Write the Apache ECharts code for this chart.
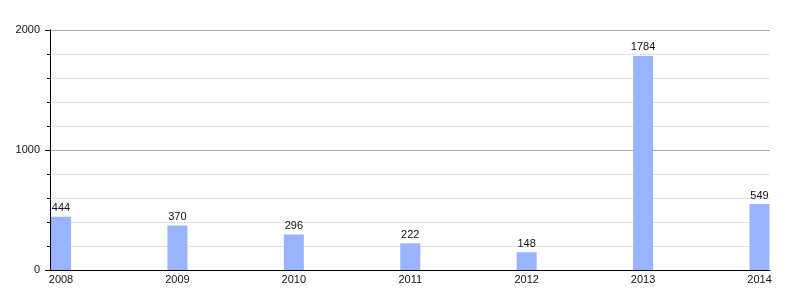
<!DOCTYPE html>
<html>
<head>
<meta charset="utf-8">
<script src="https://cdn.jsdelivr.net/npm/echarts@6/dist/echarts.min.js"></script>
<style>
  html, body { margin: 0; padding: 0; background: #fff; }
  #chart { width: 800px; height: 300px; }
</style>
</head>
<body>
<div id="chart"></div>
<script>
// Yearly counts
const years = [2008, 2009, 2010, 2011, 2012, 2013, 2014];
const counts = [444, 370, 296, 222, 148, 1784, 549];
const yMajorTicks = [0, 1000, 2000];

const FONT = '"Liberation Sans", Arial, sans-serif';
const BAR_COLOR = '#99b3ff';

const chart = echarts.init(document.getElementById('chart'), null, { renderer: 'canvas' });

const seriesData = years.map((y, i) => [y, counts[i]]);

chart.setOption({
  animation: false,
  backgroundColor: '#ffffff',
  grid: { left: 50, right: 30, top: 30, bottom: 30, containLabel: false },
  xAxis: {
    type: 'value',
    min: 2007.9055,
    max: 2014.09,
    splitLine: { show: false },
    axisLine: { show: true, onZero: false, lineStyle: { color: '#000', width: 1 } },
    axisTick: { show: false },
    axisLabel: {
      customValues: years,
      formatter: v => String(v),
      margin: 4,
      color: '#111',
      fontFamily: FONT,
      fontSize: 11
    }
  },
  yAxis: [
    {
      type: 'value',
      min: 0,
      max: 2000,
      interval: 200,
      position: 'left',
      axisLine: { show: true, lineStyle: { color: '#000', width: 1 } },
      axisTick: { show: true, length: 3, lineStyle: { color: '#000' } },
      axisLabel: { show: false },
      splitLine: {
        show: true,
        lineStyle: { color: ['#aaaaaa', '#e3e3e3', '#e3e3e3', '#e3e3e3', '#e3e3e3'], width: 1 }
      }
    },
    {
      type: 'value',
      min: 0,
      max: 2000,
      interval: 1000,
      position: 'left',
      axisLine: { show: true, lineStyle: { color: '#000', width: 1 } },
      axisTick: { show: true, length: 5, lineStyle: { color: '#000' } },
      axisLabel: {
        customValues: yMajorTicks,
        formatter: v => String(v),
        margin: 10,
        color: '#111',
        fontFamily: FONT,
        fontSize: 11
      },
      splitLine: { show: false }
    }
  ],
  series: [
    {
      type: 'bar',
      data: seriesData,
      barWidth: 20,
      itemStyle: { color: BAR_COLOR },
      label: {
        show: true,
        position: 'top',
        distance: 3,
        color: '#111',
        fontFamily: FONT,
        fontSize: 11,
        formatter: p => String(p.value[1])
      }
    }
  ]
});
</script>
</body>
</html>
